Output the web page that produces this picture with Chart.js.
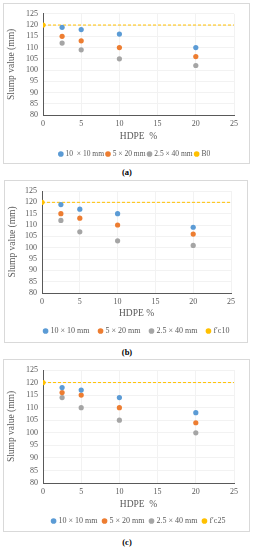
<!DOCTYPE html>
<html>
<head>
<meta charset="utf-8">
<script src="https://cdn.jsdelivr.net/npm/chart.js@4.4.1/dist/chart.umd.min.js"></script>
<style>
  body { margin: 0; background: #fff; width: 254px; height: 550px; position: relative; overflow: hidden; }
  .frame { position: absolute; border: 1px solid #d9d9d9; box-sizing: border-box; }
  .frame canvas { position: absolute; left: 0; top: 0; }
  .cap { position: absolute; left: 0; width: 254px; text-align: center; font: bold 8.5px "Liberation Serif", serif; color: #000; }
</style>
</head>
<body>
<div class="frame" style="left:3px;top:3px;width:247px;height:161px"><canvas id="ca"></canvas></div>
<div class="cap" style="top:167px">(a)</div>
<div class="frame" style="left:4px;top:180px;width:244px;height:163px"><canvas id="cb"></canvas></div>
<div class="cap" style="top:347px">(b)</div>
<div class="frame" style="left:3px;top:359px;width:247px;height:173px"><canvas id="cc"></canvas></div>
<div class="cap" style="top:537px">(c)</div>
<script>
// HDPE content (%)
const hdpe = [2.5, 5, 10, 20];
// slump values (mm)
const slumpA_10x10 = [119, 118, 116, 110];
const slumpA_5x20 = [115, 113, 110, 106];
const slumpA_25x40 = [112, 109, 105, 102];
const slumpB_10x10 = [119, 117, 115, 109];
const slumpB_5x20 = [115, 113, 110, 106];
const slumpB_25x40 = [112, 107, 103, 101];
const slumpC_10x10 = [118, 117, 114, 108];
const slumpC_5x20 = [116, 115, 110, 104];
const slumpC_25x40 = [114, 110, 105, 100];
// control mix (0 % HDPE)
const controlX = 0;
const controlSlump = 120;
const xMax = 25;

const colors = ["#5B9BD5", "#ED7D31", "#A5A5A5", "#FFC000"];
const serif = "'Liberation Serif', 'Times New Roman', serif";
const textColor = "#595959";

// put the legend row where Excel had it (centre x, centre y in canvas px)
const legendPlace = {
  id: "legendPlace",
  afterLayout(chart, args, opts) {
    const lg = chart.legend;
    if (!lg) return;
    const pad = lg.options.labels.padding;
    const fs = lg.options.labels.font.size;
    const h = lg.height;
    lg.left = opts.cx - 200;
    lg.right = opts.cx + 200;
    lg.top = opts.cy - pad - fs / 2;
    lg.bottom = lg.top + h;
  },
};

function pts(ys) {
  return ys.map((y, i) => ({ x: hdpe[i], y: y }));
}

function makeChart(id, w, h, names, series, geo) {
  const canvas = document.getElementById(id);
  canvas.width = w;
  canvas.height = h;
  const datasets = series.map((s, i) => ({
    label: names[i],
    data: pts(s),
    backgroundColor: colors[i],
    borderColor: colors[i],
    pointRadius: 2.6,
    pointBorderWidth: 0,
  }));
  datasets.push({
    label: names[3],
    data: [{ x: controlX, y: controlSlump }],
    backgroundColor: colors[3],
    borderColor: colors[3],
    pointRadius: 2.6,
    pointBorderWidth: 0,
  });
  // dashed reference line at control slump
  datasets.push({
    type: "line",
    label: "ref",
    data: [{ x: controlX, y: controlSlump }, { x: xMax, y: controlSlump }],
    borderColor: colors[3],
    borderWidth: 1,
    borderDash: [3, 2],
    pointRadius: 0,
    fill: false,
  });

  new Chart(canvas, {
    type: "scatter",
    data: { datasets: datasets },
    plugins: [legendPlace],
    options: {
      responsive: false,
      animation: false,
      layout: { padding: { left: 0, right: geo.right, top: geo.top, bottom: geo.bottom } },
      scales: {
        x: {
          min: 0,
          max: xMax,
          ticks: { stepSize: 5, autoSkip: false, maxRotation: 0, color: textColor, font: { family: serif, size: 8 }, padding: 4 },
          grid: { color: "#f2f2f2", drawTicks: false },
          border: { color: "#595959" },
          title: { display: true, text: geo.xTitle, color: textColor, font: { family: serif, size: 9.5 }, padding: { top: 2, bottom: geo.tpb } },
          afterFit: (scale) => { scale.height = geo.xh; },
        },
        y: {
          min: 80,
          max: 125,
          ticks: { stepSize: 5, autoSkip: false, color: textColor, font: { family: serif, size: 8 }, padding: 5 },
          grid: { color: "#f2f2f2", drawTicks: false },
          border: { color: "#595959" },
          title: { display: true, text: "Slump value (mm)", color: textColor, font: { family: serif, size: 9.5 }, padding: { top: 2, bottom: 0 } },
          afterFit: (scale) => { scale.width = geo.yw; },
        },
      },
      plugins: {
        legendPlace: { cx: geo.lcx, cy: geo.lcy },
        legend: {
          position: "bottom",
          maxHeight: 18,
          labels: {
            usePointStyle: true,
            pointStyle: "circle",
            boxWidth: 2,
            boxHeight: 4,
            padding: geo.lpad,
            color: textColor,
            font: { family: serif, size: geo.lfs },
            filter: (item) => item.text !== "ref",
          },
        },
        tooltip: { enabled: false },
      },
    },
  });
}

makeChart("ca", 245, 159, ["10  × 10 mm", "5 × 20 mm", "2.5 × 40 mm", "B0"],
  [slumpA_10x10, slumpA_5x20, slumpA_25x40],
  { top: 9, right: 15, bottom: 0, xh: 30, tpb: 3, yw: 39, xTitle: "HDPE  %",
    lcx: 131, lcy: 150, lpad: 3, lfs: 7.5 });
makeChart("cb", 242, 161, ["10 × 10 mm", "5 × 20 mm", "2.5 × 40 mm", "f′c10"],
  [slumpB_10x10, slumpB_5x20, slumpB_25x40],
  { top: 10, right: 16, bottom: 3, xh: 28, tpb: 2, yw: 37, xTitle: "HDPE %",
    lcx: 132, lcy: 150, lpad: 10, lfs: 8 });
makeChart("cc", 245, 171, ["10 × 10 mm", "5 × 20 mm", "2.5 × 40 mm", "f′c25"],
  [slumpC_10x10, slumpC_5x20, slumpC_25x40],
  { top: 10, right: 15, bottom: 2, xh: 28, tpb: 1, yw: 39, xTitle: "HDPE  %",
    lcx: 135, lcy: 161, lpad: 6, lfs: 8 });
</script>
</body>
</html>
